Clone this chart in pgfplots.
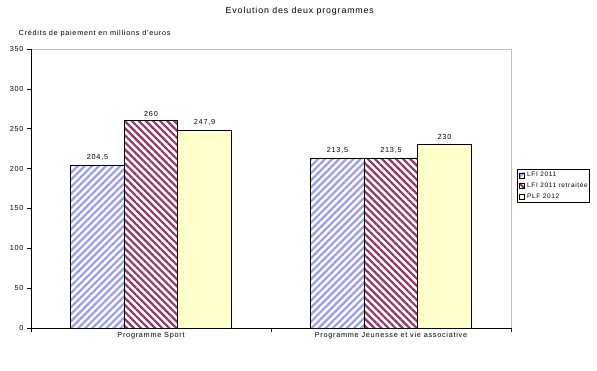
\documentclass[border=0pt]{standalone}
\usepackage{pgfplots}
\pgfplotsset{compat=1.18}
\usepackage{fontspec}
\setmainfont{Liberation Sans}[LetterSpace=10]
\usetikzlibrary{patterns.meta}
\definecolor{cblue}{HTML}{9999FF}
\definecolor{cmaroon}{HTML}{993366}
\definecolor{cyellow}{HTML}{FFFFCC}
\definecolor{cgray}{HTML}{C0C0C0}
\begin{document}
\begin{tikzpicture}[x=1pt,y=1pt]
\path[use as bounding box] (0,0) rectangle (597,371);
\begin{axis}[
  at={(31pt,43pt)}, anchor=south west,
  scale only axis, width=480pt, height=279pt,
  xmin=-0.5, xmax=1.5, ymin=0, ymax=350,
  ybar,
  axis line style={draw=none},
  ytick={0,50,...,350},
  xtick={-0.5,0.5,1.5}, xticklabels={},
  extra x ticks={0,1},
  extra x tick labels={Programme Sport, Programme Jeunesse et vie associative},
  extra x tick style={major tick length=0pt},
  tick align=outside, major tick length=4pt,
  tick style={black, line width=0.6pt},
  xtick pos=bottom, ytick pos=left,
  /pgf/number format/assume math mode=true,
  tick label style={font=\fontsize{7.3}{8}\selectfont},
  xticklabel style={yshift=-1pt},
  title={Evolution des deux programmes},
  title style={at={(rel axis cs:0.56,1.115)}, anchor=center, font=\fontsize{8.8}{10}\selectfont},
  ylabel={Crédits de paiement en millions d'euros},
  every axis y label/.style={at={(rel axis cs:-0.033,1.057)}, anchor=west, font=\fontsize{7.3}{8}\selectfont},
  bar width=0.223,
  nodes near coords,
  every node near coord/.append style={font=\fontsize{7.3}{8}\selectfont, /pgf/number format/use comma, /pgf/number format/fixed, /pgf/number format/assume math mode=true, yshift=1pt},
  legend style={at={(rel axis cs:1.013,0.509)}, anchor=west, draw=black, line width=0.6pt,
    font=\fontsize{6.5}{7.5}\selectfont, inner sep=1pt, row sep=0.5pt,
    legend cell align=left,
    nodes={inner xsep=1pt}},
  legend image code/.code={\draw[#1, line width=0.5pt] (0pt,-2.5pt) rectangle (5pt,2.5pt); \path (-0.5pt,0pt) (6.5pt,0pt);},
  clip=false,
]
% frame
\draw[cgray, line width=0.8pt] (rel axis cs:0,1) -- (rel axis cs:1,1) -- (rel axis cs:1,0);
\addplot[bar shift=-0.223, draw=black, line width=0.6pt, fill=white,
  postaction={pattern={Lines[angle=45,distance=5pt,line width=2.2pt]}, pattern color=cblue}]
  coordinates {(0,204.5) (1,213.5)};
\addlegendentry{LFI 2011}
\addplot[bar shift=0, draw=black, line width=0.6pt, fill=white,
  postaction={pattern={Lines[angle=-45,distance=5pt,line width=2.2pt]}, pattern color=cmaroon}]
  coordinates {(0,260) (1,213.5)};
\addlegendentry{LFI 2011 retraitée}
\addplot[bar shift=0.223, draw=black, line width=0.6pt, fill=cyellow]
  coordinates {(0,247.9) (1,230)};
\addlegendentry{PLF 2012}
\draw[black, line width=0.8pt] (rel axis cs:0,1) -- (rel axis cs:0,0) -- (rel axis cs:1,0);
\end{axis}
\end{tikzpicture}
\end{document}
